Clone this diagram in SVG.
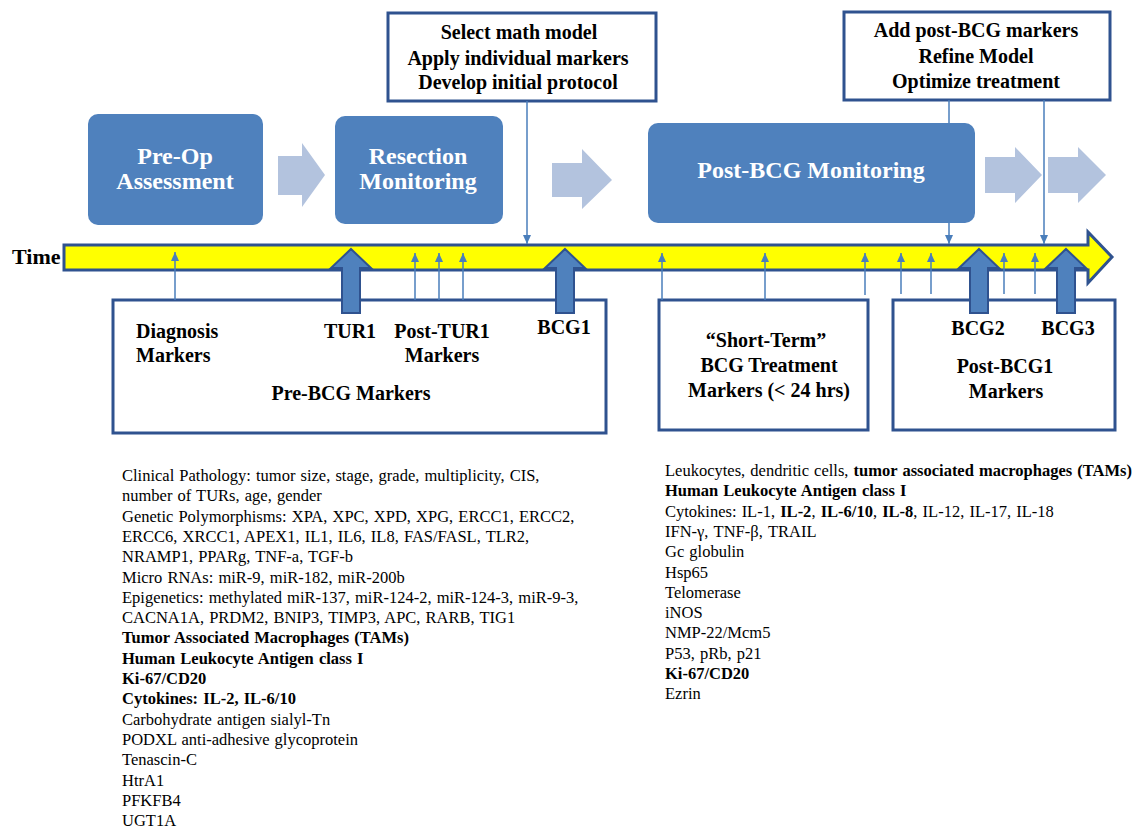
<svg xmlns="http://www.w3.org/2000/svg" width="1146" height="830" viewBox="0 0 1146 830">
<style>
text{font-family:"Liberation Serif","Times New Roman",serif;fill:#000}
.b{font-weight:bold}
.hd{font-size:20px;font-weight:bold;text-anchor:middle}
.lbl{font-size:20px;font-weight:bold}
.wt{font-size:24px;font-weight:bold;fill:#fff;text-anchor:middle}
.ls{font-size:16.5px;word-spacing:1px}
.blue{fill:#4F81BD}
.wbox{fill:#fff;stroke:#2F528F;stroke-width:3}
.light{fill:#B3C3DE}
.thin{stroke:#4A7EBB;stroke-width:1.5;fill:none}
.thick{fill:#4F81BD;stroke:#2F528F;stroke-width:2;stroke-linejoin:miter}
</style>
<defs>
<marker id="ah" markerWidth="10" markerHeight="10" refX="9" refY="5" orient="auto" markerUnits="userSpaceOnUse">
<path d="M0,1 L9,5 L0,9 Z" fill="#4A7EBB"/>
</marker>
</defs>

<g id="timebar">
<polygon points="64,245 1088,245 1088,232 1112,257 1088,283 1088,270 64,270" fill="#FFFF00" stroke="#2F528F" stroke-width="3"/>
<text x="12" y="264" class="b" font-size="22">Time</text>
</g>

<g id="pre-bcg-markers">
<rect class="wbox" x="113" y="300" width="493" height="133"/>
<text class="lbl" x="136" y="338">Diagnosis</text>
<text class="lbl" x="136" y="362">Markers</text>
<text class="hd" x="350" y="338">TUR1</text>
<text class="hd" x="442" y="338">Post-TUR1</text>
<text class="hd" x="442" y="362">Markers</text>
<text class="hd" x="564" y="334">BCG1</text>
<text class="hd" x="351" y="400">Pre-BCG Markers</text>
</g>

<g id="short-term-markers">
<rect class="wbox" x="659" y="300" width="209" height="130"/>
<text class="hd" x="766" y="347">“Short-Term”</text>
<text class="hd" x="769" y="372">BCG Treatment</text>
<text class="hd" x="769" y="397">Markers (&lt; 24 hrs)</text>
</g>

<g id="post-bcg1-markers">
<rect class="wbox" x="893" y="300" width="222" height="130"/>
<text class="hd" x="978" y="335">BCG2</text>
<text class="hd" x="1068" y="335">BCG3</text>
<text class="hd" x="1005" y="373">Post-BCG1</text>
<text class="hd" x="1006" y="398">Markers</text>
</g>

<g id="select-model">
<rect class="wbox" x="388" y="13" width="268" height="88"/>
<text class="hd" x="519" y="39">Select math model</text>
<text class="hd" x="518" y="65">Apply individual markers</text>
<text class="hd" x="518" y="89">Develop initial protocol</text>
</g>

<g id="refine-model">
<rect class="wbox" x="844" y="12" width="266" height="88"/>
<text class="hd" x="976" y="37">Add post-BCG markers</text>
<text class="hd" x="976" y="63">Refine Model</text>
<text class="hd" x="976" y="88">Optimize treatment</text>
</g>

<g id="connectors">
<line class="thin" x1="175" y1="300" x2="175" y2="252" marker-end="url(#ah)"/>
<line class="thin" x1="415" y1="300" x2="415" y2="253" marker-end="url(#ah)"/>
<line class="thin" x1="439" y1="300" x2="439" y2="253" marker-end="url(#ah)"/>
<line class="thin" x1="463" y1="300" x2="463" y2="253" marker-end="url(#ah)"/>
<line class="thin" x1="662" y1="300" x2="662" y2="253" marker-end="url(#ah)"/>
<line class="thin" x1="765" y1="300" x2="765" y2="253" marker-end="url(#ah)"/>
<line class="thin" x1="865" y1="295" x2="865" y2="253" marker-end="url(#ah)"/>
<line class="thin" x1="901" y1="294" x2="901" y2="253" marker-end="url(#ah)"/>
<line class="thin" x1="931" y1="294" x2="931" y2="253" marker-end="url(#ah)"/>
<line class="thin" x1="1004" y1="294" x2="1004" y2="253" marker-end="url(#ah)"/>
<line class="thin" x1="1035" y1="294" x2="1035" y2="253" marker-end="url(#ah)"/>
<line class="thin" x1="527" y1="101" x2="527" y2="244" marker-end="url(#ah)"/>
<line class="thin" x1="949" y1="100" x2="949" y2="244" marker-end="url(#ah)"/>
<line class="thin" x1="1044" y1="100" x2="1044" y2="244" marker-end="url(#ah)"/>
<polygon class="thick" points="351,249 371,268 360,268 360,313 342,313 342,268 331,268"/>
<polygon class="thick" points="565,249 585,268 574,268 574,313 556,313 556,268 545,268"/>
<polygon class="thick" points="979,249 999,268 988,268 988,313 970,313 970,268 959,268"/>
<polygon class="thick" points="1066,249 1086,268 1075,268 1075,313 1057,313 1057,268 1046,268"/>
<polygon class="light" points="278,156 302,156 302,143 325,175 302,207 302,195 278,195"/>
<polygon class="light" points="552,163 582,163 582,149 612,180 582,209 582,197 552,197"/>
<polygon class="light" points="985,157 1015,157 1015,147 1042,175 1015,203 1015,193 985,193"/>
<polygon class="light" points="1048,157 1078,157 1078,147 1106,175 1078,203 1078,193 1048,193"/>
</g>

<g id="pre-op">
<rect class="blue" x="88" y="114" width="175" height="111" rx="10"/>
<text class="wt" x="175" y="164">Pre-Op</text>
<text class="wt" x="175" y="189">Assessment</text>
</g>

<g id="resection">
<rect class="blue" x="335" y="116" width="168" height="108" rx="10"/>
<text class="wt" x="418" y="164">Resection</text>
<text class="wt" x="418" y="189">Monitoring</text>
</g>

<g id="post-bcg-monitoring">
<rect class="blue" x="648" y="123" width="327" height="100" rx="10"/>
<text class="wt" x="811" y="178">Post-BCG Monitoring</text>
</g>

<g id="pre-bcg-list">
<text class="ls" x="122" y="481">Clinical Pathology: tumor size, stage, grade, multiplicity, CIS,</text>
<text class="ls" x="122" y="501.3">number of TURs, age, gender</text>
<text class="ls" x="122" y="521.6">Genetic Polymorphisms: XPA, XPC, XPD, XPG, ERCC1, ERCC2,</text>
<text class="ls" x="122" y="541.9">ERCC6, XRCC1, APEX1, IL1, IL6, IL8, FAS/FASL, TLR2,</text>
<text class="ls" x="122" y="562.2">NRAMP1, PPARg, TNF-a, TGF-b</text>
<text class="ls" x="122" y="582.5">Micro RNAs: miR-9, miR-182, miR-200b</text>
<text class="ls" x="122" y="602.8">Epigenetics: methylated miR-137, miR-124-2, miR-124-3, miR-9-3,</text>
<text class="ls" x="122" y="623.1">CACNA1A, PRDM2, BNIP3, TIMP3, APC, RARB, TIG1</text>
<text class="ls b" x="122" y="643.4">Tumor Associated Macrophages (TAMs)</text>
<text class="ls b" x="122" y="663.7">Human Leukocyte Antigen class I</text>
<text class="ls b" x="122" y="684">Ki-67/CD20</text>
<text class="ls b" x="122" y="704.3">Cytokines: IL-2, IL-6/10</text>
<text class="ls" x="122" y="724.6">Carbohydrate antigen sialyl-Tn</text>
<text class="ls" x="122" y="744.9">PODXL anti-adhesive glycoprotein</text>
<text class="ls" x="122" y="765.2">Tenascin-C</text>
<text class="ls" x="122" y="785.5">HtrA1</text>
<text class="ls" x="122" y="805.8">PFKFB4</text>
<text class="ls" x="122" y="826">UGT1A</text>
</g>

<g id="post-bcg-list">
<text class="ls" x="665" y="476">Leukocytes, dendritic cells, <tspan class="b">tumor associated macrophages (TAMs)</tspan></text>
<text class="ls b" x="665" y="496.3">Human Leukocyte Antigen class I</text>
<text class="ls" x="665" y="516.6">Cytokines: IL-1, <tspan class="b">IL-2</tspan>, <tspan class="b">IL-6/10</tspan>, <tspan class="b">IL-8</tspan>, IL-12, IL-17, IL-18</text>
<text class="ls" x="665" y="536.9">IFN-γ, TNF-β, TRAIL</text>
<text class="ls" x="665" y="557.2">Gc globulin</text>
<text class="ls" x="665" y="577.5">Hsp65</text>
<text class="ls" x="665" y="597.8">Telomerase</text>
<text class="ls" x="665" y="618.1">iNOS</text>
<text class="ls" x="665" y="638.4">NMP-22/Mcm5</text>
<text class="ls" x="665" y="658.7">P53, pRb, p21</text>
<text class="ls b" x="665" y="679">Ki-67/CD20</text>
<text class="ls" x="665" y="699.3">Ezrin</text>
</g>
</svg>
